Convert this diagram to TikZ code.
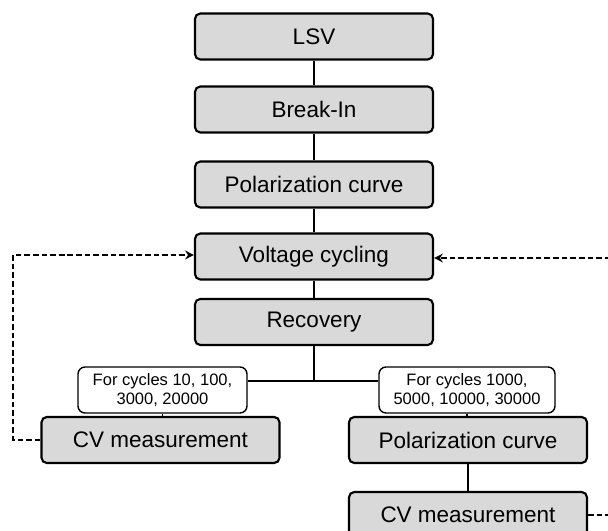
\documentclass[tikz,border=0pt]{standalone}
\usepackage{fontspec}
\setmainfont{Liberation Sans}
\usetikzlibrary{positioning,arrows.meta}
\definecolor{boxgray}{RGB}{217,217,217}
\tikzstyle{stepbox} = [draw, line width=1.2pt, rounded corners=3pt, fill=boxgray, minimum width=4.76cm, minimum height=0.92cm, font=\fontsize{12.8}{14}\selectfont]
\tikzstyle{note} = [draw, line width=0.8pt, rounded corners=4pt, fill=white, minimum height=0.92cm, align=center, inner sep=1pt, font=\fontsize{9.4}{11}\selectfont]
\tikzstyle{link} = [line width=0.8pt]
\tikzstyle{loop} = [line width=1.1pt, dash pattern=on 3.2pt off 1.7pt, -{Stealth[length=5pt,width=5pt]}]

\begin{document}
\begin{tikzpicture}[node distance=1.46cm]
    \useasboundingbox (0,0) rectangle (12.16,-10.60);

    \node (lsv) [stepbox] at (6.28,-0.73) {LSV};

    \node (brk) [stepbox, below of=lsv] {Break-In};
    \draw [link] (lsv) -- (brk);

    \node (pol) [stepbox, below of=brk, yshift=-0.04cm] {Polarization curve};
    \draw [link] (brk) -- (pol);

    \node (vc) [stepbox, below of=pol, yshift=0.02cm] {Voltage cycling};
    \draw [link] (pol) -- (vc);

    \node (rec) [stepbox, below of=vc, yshift=0.15cm] {Recovery};
    \draw [link] (vc) -- (rec);

    % branches for the cycle numbers
    \coordinate (fork) at (6.28,-7.62);
    \node (lowc) [note, minimum width=3.38cm] at (3.25,-7.80) {For cycles 10, 100,\\3000, 20000};
    \node (highc) [note, minimum width=3.52cm] at (9.34,-7.80) {For cycles 1000,\\5000, 10000, 30000};
    \draw [link] (rec) -- (fork);
    \draw [link] (lowc.east |- fork) -- (highc.west |- fork);

    \node (cvl) [stepbox] at (3.21,-8.80) {CV measurement};
    \draw [link] (lowc) -- (lowc |- cvl.north);

    \node (polr) [stepbox] at (9.36,-8.80) {Polarization curve};
    \draw [link] (highc) -- (highc |- polr.north);

    \node (cvr) [stepbox] at (9.36,-10.30) {CV measurement};
    \draw [link] (polr) -- (cvr);

    % back to voltage cycling
    \draw [loop] (cvl.west) -| (0.26,-5.10) -- (vc.west |- 0,-5.10);
    \draw [loop] (cvr.east) -| (12.60,-5.16) -- (vc.east |- 0,-5.16);
\end{tikzpicture}
\end{document}
